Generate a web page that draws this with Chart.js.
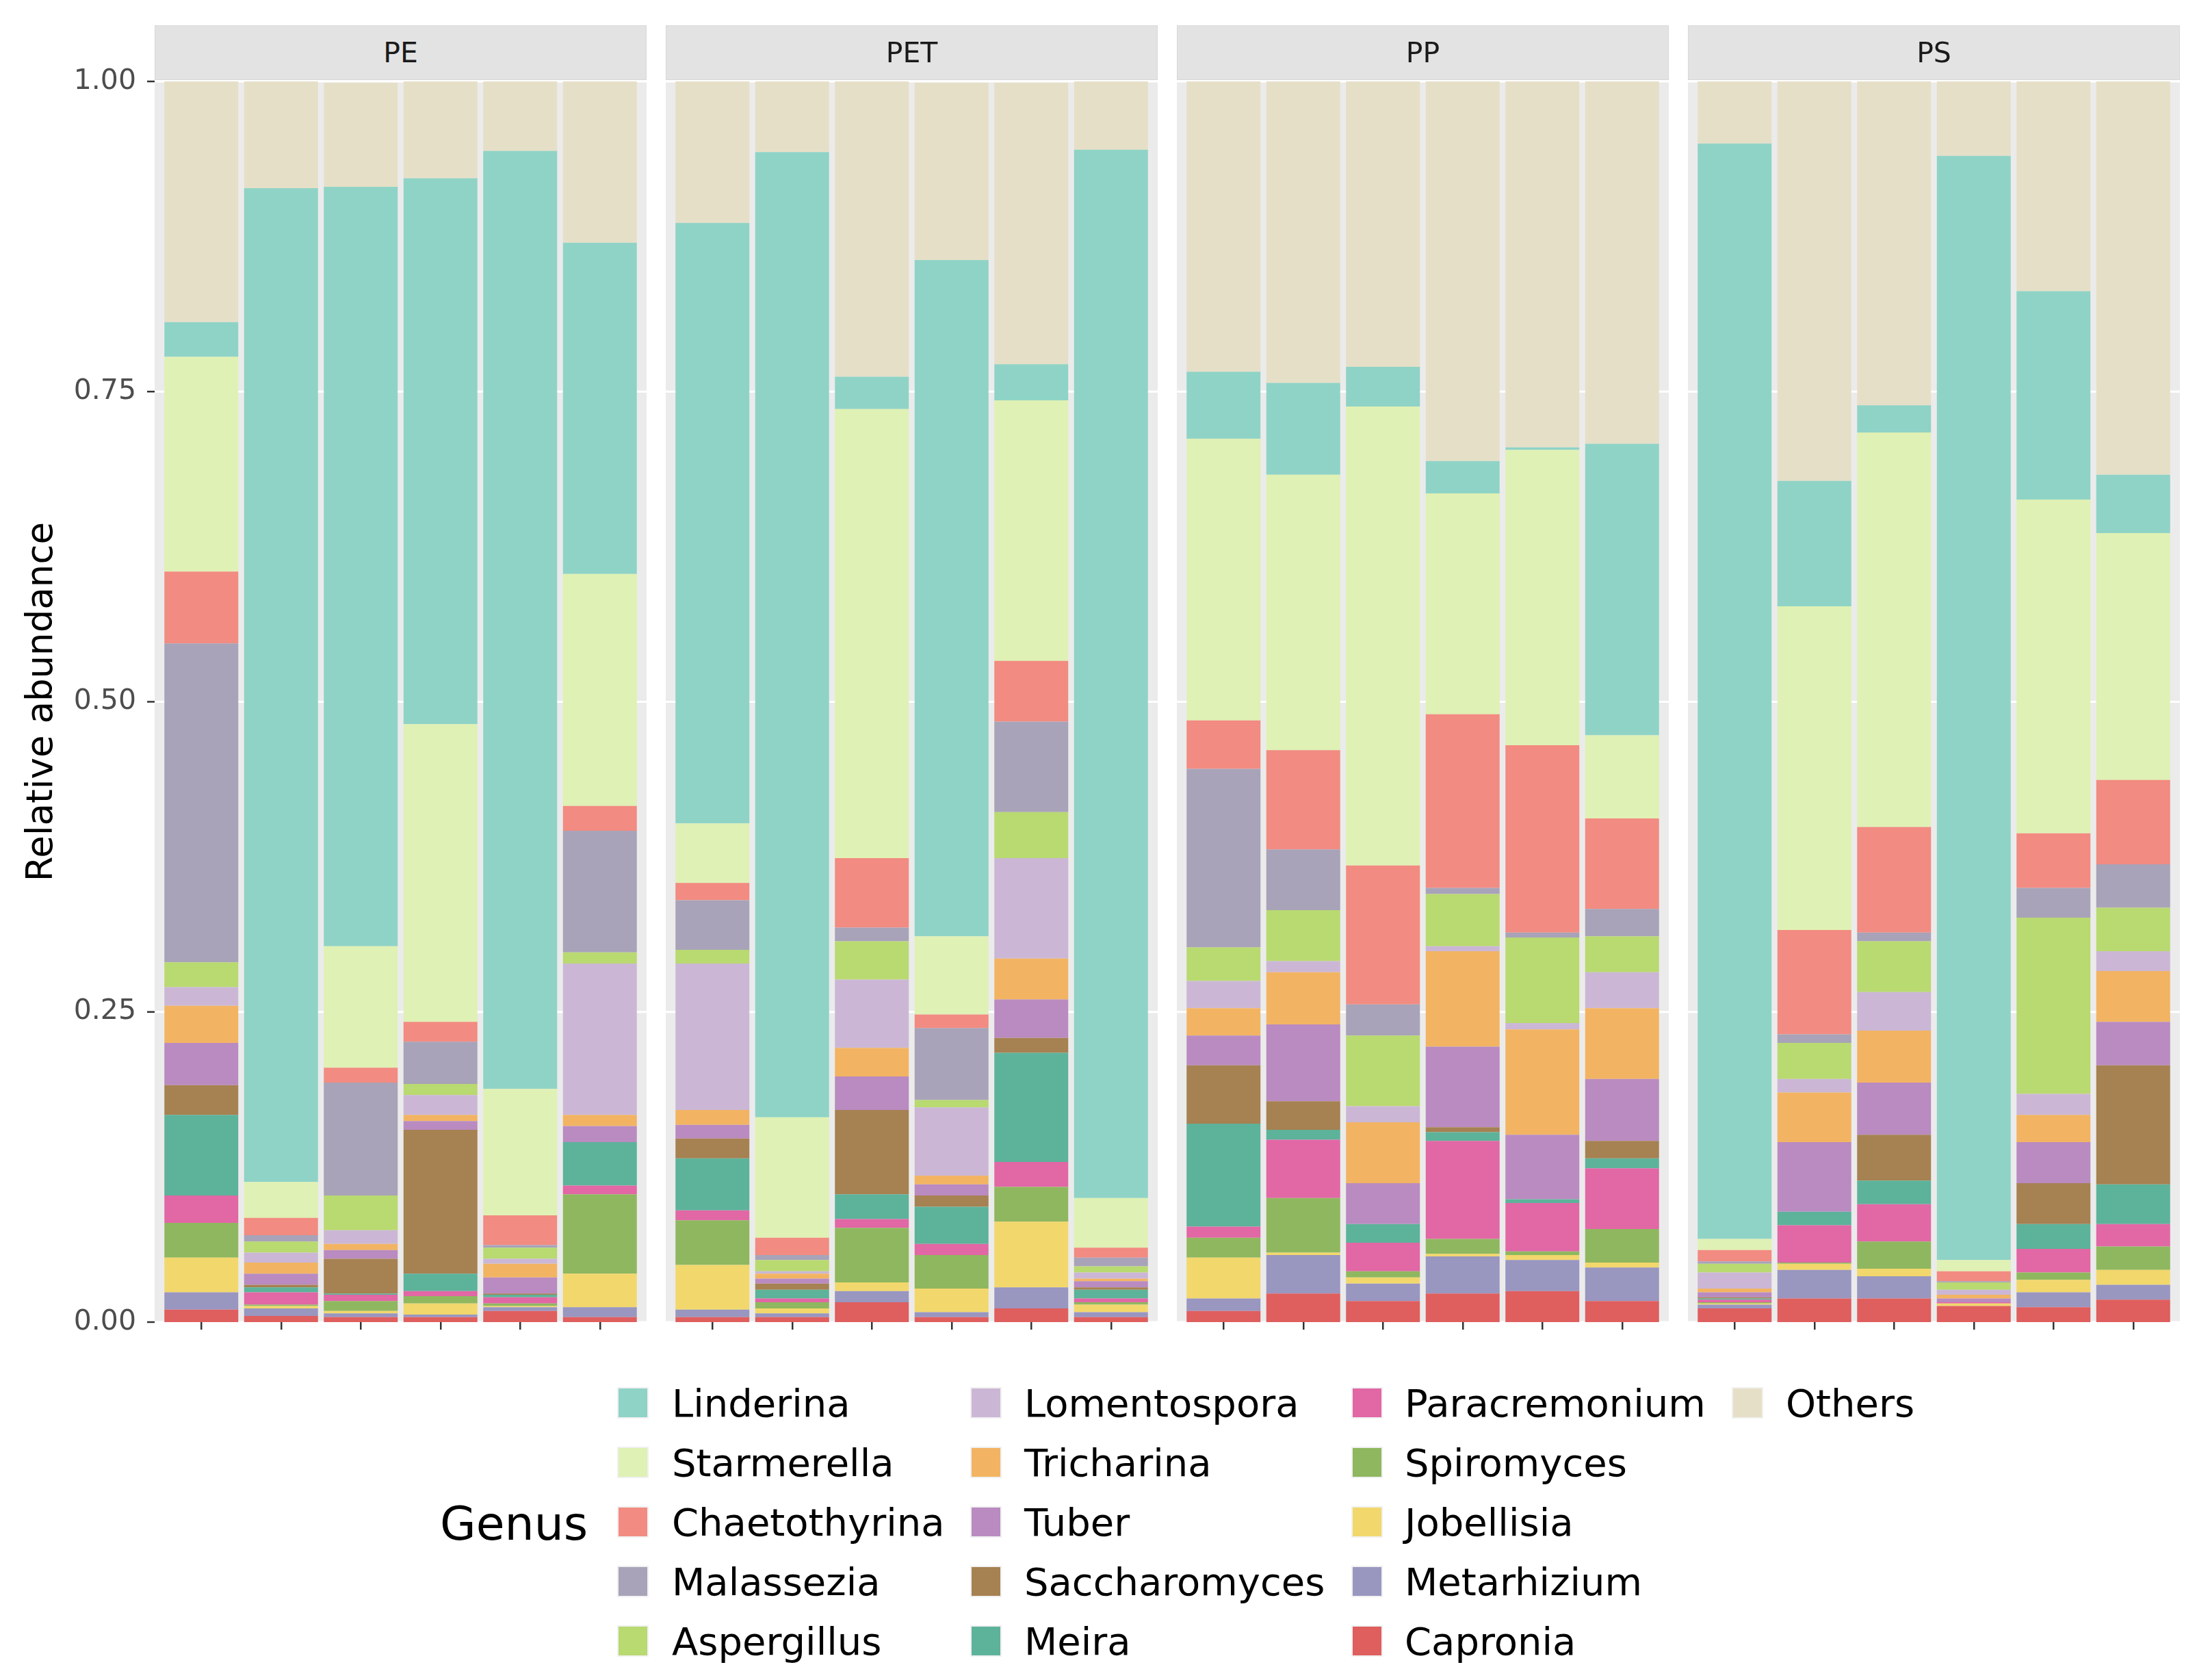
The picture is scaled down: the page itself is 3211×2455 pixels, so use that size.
<!DOCTYPE html>
<html>
<head>
<meta charset="utf-8">
<script src="https://cdn.jsdelivr.net/npm/chart.js@4.4.1/dist/chart.umd.min.js"></script>
<style>
  body { margin: 0; background: #fff; width: 3211px; height: 2455px; position: relative; overflow: hidden; font-family: 'DejaVu Sans', sans-serif; }
  .box { position: absolute; top: 89px; height: 1874px; }
  .strip { position: absolute; top: 37px; width: 719px; height: 80px; background: #e3e3e3; border: 1px solid #d8d8d8; box-sizing: border-box;
           color: #1a1a1a; font-size: 41px; line-height: 78px; text-align: center; }
  .legend-title { position: absolute; left: 643px; top: 2183px; height: 87px; line-height: 87px; font-size: 68px; color: #000; }
  .key { position: absolute; width: 42px; height: 42px; border: 2px solid #f0f0f0; }
  .lab { position: absolute; height: 87px; line-height: 87px; font-size: 56px; color: #000; white-space: nowrap; }
</style>
</head>
<body>
<div class="box" id="b0" style="left:0;width:945px"><canvas id="c0"></canvas></div>
<div class="box" id="b1" style="left:973px;width:719px"><canvas id="c1"></canvas></div>
<div class="box" id="b2" style="left:1720px;width:719px"><canvas id="c2"></canvas></div>
<div class="box" id="b3" style="left:2467px;width:719px"><canvas id="c3"></canvas></div>
<div id="strips"></div>
<div class="legend-title">Genus</div>
<div id="legend"></div>
<script>
const facets = ['PE', 'PET', 'PP', 'PS'];
const sampleLabels = [
  ['PE1', 'PE2', 'PE3', 'PE4', 'PE5', 'PE6'],
  ['PET1', 'PET2', 'PET3', 'PET4', 'PET5', 'PET6'],
  ['PP1', 'PP2', 'PP3', 'PP4', 'PP5', 'PP6'],
  ['PS1', 'PS2', 'PS3', 'PS4', 'PS5', 'PS6']
];
const yTicks = [0, 0.25, 0.5, 0.75, 1];

// relative abundance, 24 samples: PE1-6, PET1-6, PP1-6, PS1-6
const linderina     = [0.028,0.801,0.612,0.440,0.756,0.267, 0.484,0.778,0.026,0.545,0.029,0.845, 0.054,0.074,0.032,0.026,0.002,0.235, 0.883,0.101,0.022,0.890,0.168,0.047];
const starmerella   = [0.173,0.029,0.098,0.240,0.102,0.187, 0.048,0.097,0.362,0.063,0.210,0.040, 0.227,0.222,0.370,0.178,0.238,0.067, 0.009,0.261,0.318,0.009,0.269,0.199];
const chaetothyrina = [0.058,0.014,0.012,0.016,0.024,0.020, 0.014,0.014,0.056,0.011,0.049,0.008, 0.039,0.080,0.112,0.140,0.151,0.073, 0.009,0.084,0.085,0.008,0.044,0.068];
const malassezia    = [0.257,0.005,0.091,0.034,0.002,0.098, 0.040,0.004,0.011,0.058,0.073,0.007, 0.144,0.049,0.025,0.005,0.004,0.022, 0.002,0.007,0.007,0.001,0.024,0.035];
const aspergillus   = [0.020,0.009,0.028,0.009,0.009,0.009, 0.011,0.009,0.031,0.006,0.037,0.005, 0.027,0.041,0.057,0.042,0.069,0.029, 0.007,0.029,0.041,0.006,0.142,0.035];
const lomentospora  = [0.015,0.008,0.011,0.016,0.004,0.122, 0.118,0.002,0.055,0.055,0.081,0.005, 0.022,0.009,0.013,0.004,0.005,0.029, 0.013,0.011,0.031,0.004,0.017,0.016];
const tricharina    = [0.030,0.009,0.005,0.005,0.011,0.009, 0.012,0.004,0.023,0.007,0.033,0.002, 0.022,0.042,0.049,0.077,0.085,0.057, 0.003,0.040,0.042,0.003,0.022,0.041];
const tuber         = [0.034,0.009,0.007,0.007,0.013,0.013, 0.011,0.004,0.027,0.009,0.031,0.005, 0.024,0.062,0.033,0.065,0.052,0.050, 0.004,0.056,0.042,0.003,0.033,0.035];
const saccharomyces = [0.024,0.002,0.028,0.116,0.001,0.000, 0.016,0.005,0.068,0.009,0.012,0.002, 0.047,0.023,0.000,0.004,0.000,0.014, 0.001,0.000,0.037,0.000,0.033,0.096];
const meira         = [0.065,0.004,0.001,0.014,0.002,0.035, 0.042,0.007,0.020,0.030,0.088,0.007, 0.083,0.008,0.015,0.007,0.003,0.008, 0.001,0.011,0.019,0.000,0.020,0.032];
const paracremonium = [0.022,0.010,0.005,0.004,0.005,0.007, 0.008,0.003,0.007,0.009,0.020,0.003, 0.009,0.047,0.023,0.079,0.039,0.049, 0.002,0.030,0.030,0.001,0.019,0.018];
const spiromyces    = [0.028,0.001,0.008,0.006,0.002,0.064, 0.036,0.005,0.044,0.027,0.028,0.002, 0.016,0.044,0.005,0.012,0.003,0.027, 0.001,0.001,0.022,0.000,0.006,0.019];
const jobellisia    = [0.028,0.002,0.002,0.009,0.001,0.027, 0.036,0.004,0.007,0.019,0.053,0.006, 0.033,0.002,0.005,0.002,0.004,0.004, 0.001,0.005,0.006,0.002,0.010,0.012];
const metarhizium   = [0.014,0.006,0.003,0.002,0.003,0.008, 0.006,0.003,0.009,0.004,0.017,0.004, 0.010,0.031,0.014,0.030,0.025,0.027, 0.003,0.023,0.018,0.000,0.012,0.012];
const capronia      = [0.010,0.005,0.004,0.004,0.009,0.004, 0.004,0.004,0.016,0.004,0.011,0.004, 0.009,0.023,0.017,0.023,0.025,0.017, 0.011,0.019,0.019,0.013,0.012,0.018];
const others        = [0.195,0.086,0.084,0.080,0.058,0.131, 0.115,0.059,0.239,0.143,0.227,0.056, 0.236,0.246,0.230,0.308,0.296,0.292, 0.053,0.324,0.261,0.061,0.169,0.318];

// legend order (column by column)
const genera = ['Linderina', 'Starmerella', 'Chaetothyrina', 'Malassezia', 'Aspergillus',
                'Lomentospora', 'Tricharina', 'Tuber', 'Saccharomyces', 'Meira',
                'Paracremonium', 'Spiromyces', 'Jobellisia', 'Metarhizium', 'Capronia', 'Others'];

const abundance = {
  Linderina: linderina, Starmerella: starmerella, Chaetothyrina: chaetothyrina, Malassezia: malassezia,
  Aspergillus: aspergillus, Lomentospora: lomentospora, Tricharina: tricharina, Tuber: tuber,
  Saccharomyces: saccharomyces, Meira: meira, Paracremonium: paracremonium, Spiromyces: spiromyces,
  Jobellisia: jobellisia, Metarhizium: metarhizium, Capronia: capronia, Others: others
};

const genusColors = {
  Linderina: '#8fd3c6', Starmerella: '#dff1b4', Chaetothyrina: '#f28b81', Malassezia: '#a8a3b8',
  Aspergillus: '#b9d971', Lomentospora: '#cbb7d5', Tricharina: '#f2b463', Tuber: '#b98bc0',
  Saccharomyces: '#a68152', Meira: '#5db29a', Paracremonium: '#e167a5', Spiromyces: '#8fb75f',
  Jobellisia: '#f2d76c', Metarhizium: '#9996c0', Capronia: '#df5e5e', Others: '#e6dfc7'
};

// bottom to top: Capronia ... Linderina, then Others on top
const stackOrder = genera.slice(0, 15).reverse().concat(['Others']);

const INSET = 10;
Chart.defaults.font.family = "'DejaVu Sans', sans-serif";

// grey panel + white grid lines, drawn a bit wider than the chart area
const panelPlugin = {
  id: 'panel',
  beforeDraw(chart) {
    const { ctx, chartArea: a, scales: { y } } = chart;
    ctx.save();
    ctx.fillStyle = '#ebebeb';
    ctx.fillRect(a.left - INSET, a.top, a.right - a.left + 2 * INSET, a.bottom - a.top);
    ctx.strokeStyle = '#ffffff';
    ctx.lineWidth = 3;
    yTicks.forEach(v => {
      const py = y.getPixelForValue(v);
      ctx.beginPath();
      ctx.moveTo(a.left - INSET, py);
      ctx.lineTo(a.right + INSET, py);
      ctx.stroke();
    });
    ctx.restore();
  },
  afterDraw(chart) {
    if (!chart.options.scales.y.display) return;
    const { ctx, chartArea: a, scales: { y } } = chart;
    ctx.save();
    ctx.strokeStyle = '#333333';
    ctx.lineWidth = 2.5;
    yTicks.forEach(v => {
      const py = y.getPixelForValue(v);
      ctx.beginPath();
      ctx.moveTo(a.left - INSET - 11, py);
      ctx.lineTo(a.left - INSET, py);
      ctx.stroke();
    });
    ctx.restore();
  }
};

function makeChart(i) {
  const first = i === 0;
  const start = i * 6;
  const datasets = stackOrder.map(name => ({
    label: name,
    data: abundance[name].slice(start, start + 6),
    backgroundColor: genusColors[name],
    borderWidth: 0,
    barPercentage: 0.927,
    categoryPercentage: 1.0
  }));

  const yAxis = {
    stacked: true,
    display: first,
    min: 0,
    max: 1,
    border: { display: false },
    grid: { display: false, drawTicks: false },
    ticks: {
      stepSize: 0.25,
      padding: 37,
      color: '#4d4d4d',
      font: { size: 41 },
      callback: v => v.toFixed(2)
    },
    title: {
      display: first,
      text: 'Relative abundance',
      color: '#000000',
      font: { size: 53 },
      padding: { top: 30, bottom: 0 }
    }
  };
  if (first) {
    yAxis.afterFit = scale => {
      scale.width = 236;
      scale.paddingTop = 0;
      scale.paddingBottom = 0;
    };
  }

  return new Chart(document.getElementById('c' + i), {
    type: 'bar',
    data: { labels: sampleLabels[i], datasets: datasets },
    options: {
      responsive: true,
      maintainAspectRatio: false,
      animation: false,
      layout: { padding: { top: 30, bottom: 20, left: first ? 0 : INSET, right: INSET } },
      plugins: { legend: { display: false }, tooltip: { enabled: true } },
      scales: {
        x: {
          stacked: true,
          offset: true,
          ticks: { display: false },
          border: { display: false },
          grid: { offset: false, drawOnChartArea: false, drawTicks: true, tickLength: 11, color: '#333333', lineWidth: 2.5 }
        },
        y: yAxis
      }
    },
    plugins: [panelPlugin]
  });
}

const panelLefts = [226, 973, 1720, 2467];
const strips = document.getElementById('strips');
facets.forEach((f, i) => {
  const s = document.createElement('div');
  s.className = 'strip';
  s.style.left = panelLefts[i] + 'px';
  s.textContent = f;
  strips.appendChild(s);
  makeChart(i);
});

// legend: 5 rows, filled column by column
const keyX = [902, 1418, 1975, 2531];
const textX = [982, 1497, 2053, 2610];
const rowY = [2050, 2137, 2224, 2311, 2398];
const legend = document.getElementById('legend');
genera.forEach((name, k) => {
  const col = Math.floor(k / 5);
  const row = k % 5;
  const key = document.createElement('div');
  key.className = 'key';
  key.style.left = keyX[col] + 'px';
  key.style.top = (rowY[row] - 23) + 'px';
  key.style.background = genusColors[name];
  legend.appendChild(key);
  const lab = document.createElement('div');
  lab.className = 'lab';
  lab.style.left = textX[col] + 'px';
  lab.style.top = (rowY[row] - 43) + 'px';
  lab.textContent = name;
  legend.appendChild(lab);
});
</script>
</body>
</html>
